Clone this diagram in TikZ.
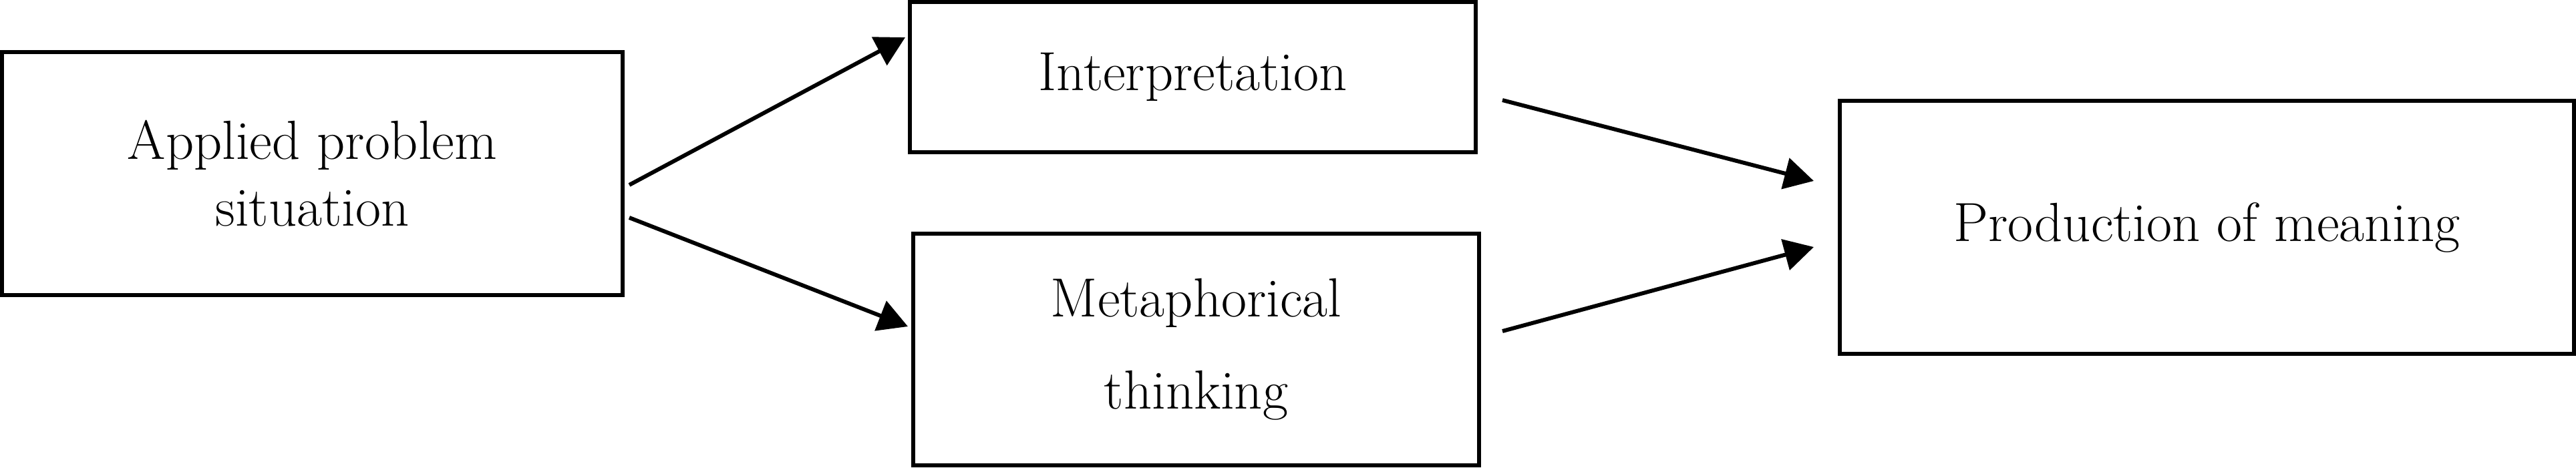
\documentclass[tikz,border=0pt]{standalone}
\usetikzlibrary{arrows.meta,positioning}
\begin{document}
\begin{tikzpicture}[font=\fontsize{23.5}{28.5}\selectfont, line width=1.7pt,
    box/.style={draw, inner sep=0pt, align=center},
    arr/.style={-{Triangle[length=0.44cm,width=0.47cm]}}]
    \useasboundingbox (0,0) rectangle (38.56,7);
    % boxes
    \node[box, minimum width=9.29cm, minimum height=3.64cm] (applied) at (4.675,4.40) {Applied problem\\situation};
    \node[box, minimum width=8.47cm, minimum height=2.25cm] (interp) at (17.855,5.845) {Interpretation};
    \node[box, minimum width=8.47cm, minimum height=3.47cm] (metaph) at (17.905,1.765) {Metaphorical\\[10.8pt]thinking};
    \node[box, minimum width=10.99cm, minimum height=3.79cm] (meaning) at (33.035,3.595) {Production of meaning};
    % arrows
    \draw[arr] ([xshift=0.07cm,yshift=-0.17cm]applied.east) -- ([xshift=-0.04cm,yshift=0.595cm]interp.west);
    \draw[arr] ([xshift=0.07cm,yshift=-0.66cm]applied.east) -- ([xshift=-0.05cm,yshift=0.345cm]metaph.west);
    \draw[arr] ([xshift=0.37cm,yshift=-0.345cm]interp.east) -- ([xshift=-0.36cm,yshift=0.695cm]meaning.west);
    \draw[arr] ([xshift=0.32cm,yshift=0.275cm]metaph.east) -- ([xshift=-0.36cm,yshift=-0.295cm]meaning.west);
\end{tikzpicture}
\end{document}
